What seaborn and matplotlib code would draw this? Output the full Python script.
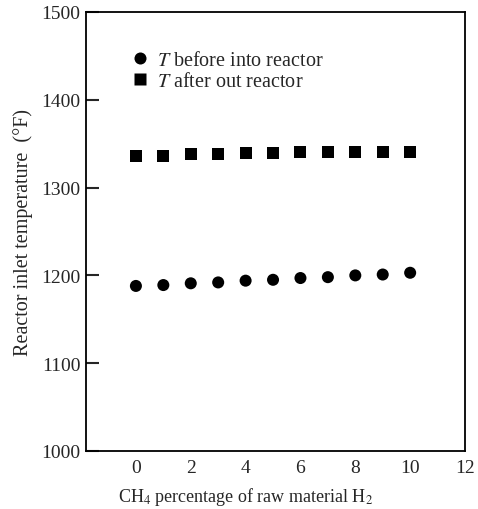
"""Reactor inlet temperature vs CH4 percentage."""

import seaborn as sns
import matplotlib.pyplot as plt
import pandas as pd

# data
ch4_pct = [0, 1, 2, 3, 4, 5, 6, 7, 8, 9, 10]
t_before = [1188, 1189, 1191, 1192, 1194, 1195, 1197, 1198, 1200, 1201, 1203]
t_after = [1336, 1336, 1338, 1338, 1339, 1339, 1340, 1340, 1340, 1341, 1341]
series_names = ["$T$ before into reactor", "$T$ after out reactor"]
y_ticks = [1000, 1100, 1200, 1300, 1400, 1500]
x_ticks = [0, 2, 4, 6, 8, 10, 12]

sns.set_theme(style="ticks")
plt.rcParams['font.family'] = ['Liberation Serif', 'DejaVu Serif']
plt.rcParams['mathtext.fontset'] = 'stix'

df = pd.DataFrame({
    "x": ch4_pct * 2,
    "y": t_before + t_after,
    "series": [series_names[0]] * len(ch4_pct) + [series_names[1]] * len(ch4_pct),
})

fig = plt.figure(figsize=(4.78, 5.10), dpi=100)
ax = fig.add_axes([86 / 478, 58 / 510, 379 / 478, 439 / 510])

sns.scatterplot(
    data=df, x="x", y="y", style="series", hue="series",
    markers={series_names[0]: "o", series_names[1]: "s"},
    palette={series_names[0]: "black", series_names[1]: "black"},
    s=75, edgecolor="none", ax=ax,
)

ax.set_xlim(-1.82, 12)
ax.set_ylim(1000, 1500)
ax.set_xticks(x_ticks)
ax.set_yticks(y_ticks)
ax.tick_params(axis="y", direction="in", length=9, width=1.5, labelsize=14, pad=4)
ax.tick_params(axis="x", length=0, labelsize=14, pad=6)
for sp in ax.spines.values():
    sp.set_linewidth(1.3)
    sp.set_color("black")

ax.set_xlabel("CH$_4$ percentage of raw material H$_2$", fontsize=13)
ax.xaxis.set_label_coords(0.42, -0.077)
ax.set_ylabel("Reactor inlet temperature  (°F)", fontsize=14.5)
ax.yaxis.set_label_coords(-0.14, 0.5)

leg = ax.legend(loc="upper left", bbox_to_anchor=(0.095, 0.93), frameon=False,
                fontsize=14.5, handlelength=1.0, handletextpad=0.35,
                borderaxespad=0, labelspacing=0.12, markerscale=1.0)

fig.savefig("out.png", dpi=100)
